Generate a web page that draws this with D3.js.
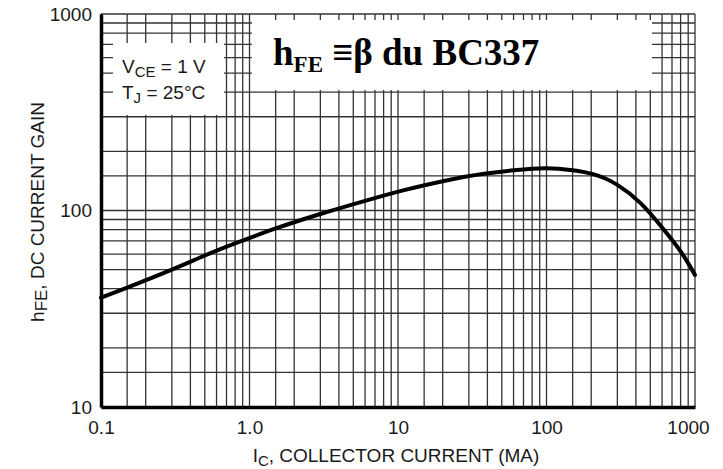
<!DOCTYPE html>
<html>
<head>
<meta charset="UTF-8">
<title>hFE BC337</title>
<style>
  body{margin:0;background:#fff;}
  text{font-family:"Liberation Sans",Arial,sans-serif;fill:#1a1a1a;}
  .title{font-family:"Liberation Serif","Times New Roman",serif;font-weight:bold;fill:#000;}
  .grid line{stroke:#333;stroke-width:1.3;}
</style>
</head>
<body>
<svg id="chart"></svg>
<script src="https://d3js.org/d3.v7.min.js"></script>
<script>
let width = 723, height = 469;

// values
var current = [0.1, 0.15, 0.3, 0.5, 0.8, 1.5, 3, 6, 11, 20, 38, 80, 120, 200, 300, 430, 600, 800, 1000];
var hfe = [36, 40.5, 50, 59, 68, 81, 96, 112, 127, 141, 154, 163, 163, 154, 135, 109, 82, 62, 47];
var xTicks = [0.1, 1, 10, 100, 1000];
var xTickLabels = ["0.1", "1.0", "10", "100", "1000"];
var yTicks = [10, 100, 1000];
var yTickLabels = ["10", "100", "1000"];
var gridSteps = [1, 1.5, 2, 3, 4, 5, 6, 7, 8, 9];

let svg = d3.select("#chart").attr("width", width).attr("height", height);

var x = d3.scaleLog().domain([0.1, 1000]).range([101, 695]);
var y = d3.scaleLog().domain([10, 1000]).range([407, 14]);

// grid lines: 1, 1.5, 2..9 in each decade
var xGrid = [], yGrid = [];
xTicks.slice(0, -1).forEach(d => gridSteps.forEach(s => xGrid.push(d * s)));
xGrid.push(1000);
yTicks.slice(0, -1).forEach(d => gridSteps.forEach(s => yGrid.push(d * s)));
yGrid.push(1000);

let grid = svg.append("g").attr("class", "grid");
grid.selectAll(".v").data(xGrid).enter().append("line")
  .attr("x1", d => x(d)).attr("x2", d => x(d))
  .attr("y1", y(1000)).attr("y2", y(10));
grid.selectAll(".h").data(yGrid).enter().append("line")
  .attr("x1", x(0.1)).attr("x2", x(1000))
  .attr("y1", d => y(d)).attr("y2", d => y(d));

// white boxes over the grid
svg.append("rect").attr("x", 113).attr("y", 43).attr("width", 111).attr("height", 72).attr("fill", "#fff");
svg.append("rect").attr("x", 252).attr("y", 20).attr("width", 400).attr("height", 70).attr("fill", "#fff");

// axes
let xAxis = svg.append("g")
  .attr("transform", "translate(0," + y(10) + ")")
  .call(d3.axisBottom(x).tickValues(xTicks).tickFormat((d, i) => xTickLabels[i]).tickSize(0).tickSizeOuter(0).tickPadding(14));
xAxis.select(".domain").attr("stroke", "#000").attr("stroke-width", 3.5);
xAxis.selectAll("text").attr("font-size", 19).attr("font-family", null).attr("fill", "#1a1a1a")
  .attr("dx", (d, i) => i == xTicks.length - 1 ? -7 : 0);

let yAxis = svg.append("g")
  .attr("transform", "translate(" + x(0.1) + ",0)")
  .call(d3.axisLeft(y).tickValues(yTicks).tickFormat((d, i) => yTickLabels[i]).tickSize(0).tickSizeOuter(0).tickPadding(9));
yAxis.select(".domain").attr("stroke", "#000").attr("stroke-width", 3.5);
yAxis.selectAll("text").attr("font-size", 19).attr("font-family", null).attr("fill", "#1a1a1a");

// curve
var line = d3.line()
  .x((d, i) => x(current[i]))
  .y((d, i) => y(hfe[i]))
  .curve(d3.curveNatural);
svg.append("path")
  .datum(hfe)
  .attr("d", line)
  .attr("fill", "none")
  .attr("stroke", "#000")
  .attr("stroke-width", 4)
  .attr("stroke-linecap", "round");

// legend text
let leg = svg.append("g").attr("font-size", 19);
let t1 = leg.append("text").attr("x", 122).attr("y", 73);
t1.append("tspan").text("V");
t1.append("tspan").attr("font-size", 15).attr("dy", 4).text("CE");
t1.append("tspan").attr("dy", -4).text(" = 1 V");
let t2 = leg.append("text").attr("x", 122).attr("y", 99);
t2.append("tspan").text("T");
t2.append("tspan").attr("font-size", 15).attr("dy", 4).text("J");
t2.append("tspan").attr("dy", -4).text(" = 25°C");

// title
let title = svg.append("text").attr("class", "title").attr("x", 273).attr("y", 65).attr("font-size", 37);
title.append("tspan").text("h");
title.append("tspan").attr("font-size", 23).attr("dy", 7).text("FE");
title.append("tspan").attr("dy", -7).text(" \u2261\u03b2 du BC337");

// axis titles
let xt = svg.append("text").attr("x", 396).attr("y", 462).attr("text-anchor", "middle").attr("font-size", 19);
xt.append("tspan").text("I");
xt.append("tspan").attr("font-size", 15).attr("dy", 4).text("C");
xt.append("tspan").attr("dy", -4).text(", COLLECTOR CURRENT (MA)");

let yt = svg.append("text").attr("transform", "translate(44,212) rotate(-90)").attr("text-anchor", "middle").attr("font-size", 19);
yt.append("tspan").text("h");
yt.append("tspan").attr("font-size", 17).attr("dy", 3).text("FE");
yt.append("tspan").attr("dy", -3).text(", DC CURRENT GAIN");
</script>
</body>
</html>
